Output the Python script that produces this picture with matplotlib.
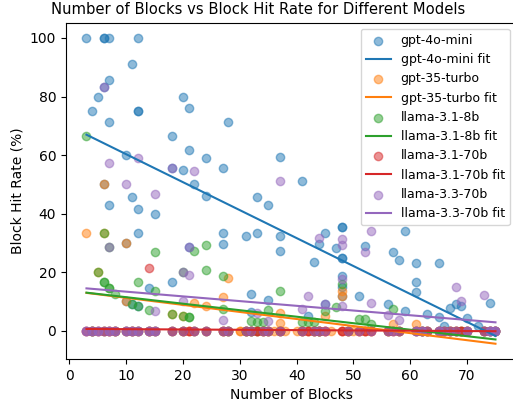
import matplotlib
matplotlib.use("Agg")
import matplotlib.pyplot as plt
import numpy as np

# block counts where a model scored 0 hits
zero_blocks = [3, 4, 5, 6, 7, 8, 10, 11, 12, 14, 15, 18, 20, 21, 22, 24, 27, 28, 31, 32,
               33, 34, 35, 37, 41, 42, 43, 44, 45, 48, 49, 51, 52, 53, 56, 57, 58, 61, 62,
               63, 65, 66, 67, 68, 69, 70, 73, 74, 75]

models = ["gpt-4o-mini", "gpt-35-turbo", "llama-3.1-8b", "llama-3.1-70b", "llama-3.3-70b"]

gpt4o_x = [3, 6, 6, 7, 12, 11, 7, 5, 20, 4, 12, 12, 21, 7, 28, 18, 21, 10, 24, 37, 20, 27,
           22, 41, 11, 24, 33, 7, 35, 12, 15, 12, 27, 31, 33, 37, 45, 48, 48, 59, 27, 37,
           44, 47, 52, 57, 48, 48, 43, 58, 61, 65, 48, 18, 61, 14, 48, 61, 32, 51, 35, 74,
           56, 68, 69, 67, 59, 32, 42, 63, 65, 70, 66, 72, 6, 10, 10, 48, 11, 12,
           6, 18, 21, 45, 44, 62, 73, 75]
gpt4o_y = [100, 100, 100, 100, 100, 91, 85.6, 80, 80, 75, 75, 75, 76, 71.4, 71.4, 66.5,
           61.8, 60, 59, 59.5, 55, 55.6, 50, 51.2, 45.6, 45.9, 45.6, 43, 43, 41.7, 40, 33.4,
           33.4, 32.2, 33.4, 32.5, 33.4, 35.3, 35.3, 34, 29.6, 27.1, 29.6, 28.2, 28.9, 27,
           25, 25, 23.3, 24.2, 23, 23, 18.8, 16.7, 16.5, 14.5, 14.9, 13.1, 12.5, 11.7, 10.5,
           9.4, 9, 9, 8.5, 7.6, 6.8, 6.3, 5.1, 5.7, 4.6, 4.4, 1.7, 1.7, 50, 30, 10.2, 11.9,
           9.1, 8.5, 83.3, 55.6, 28.5, 9.1, 0, 0, 0, 0]

gpt35_x = [3, 6, 10, 10, 22, 24, 27, 28, 37, 37, 45, 48, 48, 57, 61, 5, 6, 18, 20,
           4, 7, 8, 11, 14, 20, 21, 27, 31, 33, 35, 41, 43, 44, 49, 51, 53, 56, 58, 62,
           63, 65, 67, 68, 69, 70, 73, 74, 75,
           30, 30, 32, 34, 36, 37, 38, 40, 42, 44, 45, 46, 48, 50, 52]
gpt35_y = [33.4, 50, 30, 10.2, 9.3, 8.4, 11.4, 17.9, 5.9, 2.8, 5, 13.4, 11.9, 2.3, 2.3,
           20.2, 33.4, 5.7, 5.1,
           0, 0, 0, 0, 0, 0, 0, 0, 0, 0, 0, 0, 0, 0, 0, 0, 0, 0, 0, 0, 0, 0, 0, 0, 0, 0,
           0, 0, 0,
           0, 0, 0, 0, 0, 0, 0, 0, 0, 0, 0, 0, 0, 0, 0]

llama8_x = [3, 6, 5, 6, 6, 7, 7, 8, 12, 15, 15, 14, 18, 20, 21, 21, 22, 24, 24, 27, 27,
            32, 33, 34, 35, 37, 41, 42, 43, 45, 47, 48, 51, 52, 53, 57, 11, 12, 7, 20,
            4, 10, 28, 31, 44, 49, 56, 58, 61, 62, 63, 65, 66, 67, 68, 69, 70, 73, 74, 75,
            4, 6, 8, 11, 12, 14, 15, 18, 20, 22, 24, 27, 28, 31, 32, 32, 33, 34, 35, 37,
            41, 43]
llama8_y = [66.5, 33.4, 20.2, 16.7, 16.7, 14.5, 14.5, 12.5, 16.7, 26.8, 13.7, 7.1, 5.7,
            5.1, 4.8, 4.8, 27.3, 29.2, 20.8, 18.6, 7.3, 3.4, 3, 3, 7.1, 13.7, 3, 3, 3,
            6.8, 8, 16, 4, 4, 2.3, 7.3, 9.1, 8.5, 28.5, 20.2] + [0] * 42

llama70_x = [14] + zero_blocks + zero_blocks
llama70_y = [21.4] + [0] * (2 * len(zero_blocks))

llama33_x = [6, 12, 7, 18, 22, 10, 15, 37, 21, 21, 20, 44, 48, 48, 48, 48, 52,
             53, 42, 41, 45, 33, 35, 53, 56, 58, 68, 69, 73, 15, 27, 7, 20,
             3, 3, 4, 4, 5, 5, 6, 7, 7, 8, 8, 10, 10, 11, 11, 12, 12, 14, 14, 15, 15,
             18, 20, 22, 24, 27, 28, 31, 32, 34, 35, 37, 41, 43, 44, 45, 49, 51, 53,
             56, 57, 58, 61, 61, 62, 62, 63, 65, 65, 66, 67, 68, 70, 70, 73, 74, 74, 75,
             75, 74, 75]
llama33_y = [83.3, 58.9, 57.2, 55.6, 54.4, 50, 46.7, 51.2, 28.5, 19, 10.2,
             31.7, 31.3, 29.4, 17.5, 8.5, 27, 34, 12, 7.4, 9.1, 5.9, 3.4, 9.4, 5.5,
             3.7, 14.8, 10.2, 12.3, 6.6, 3.8, 28.5, 20.2] + [0] * 61

series = [(gpt4o_x, gpt4o_y), (gpt35_x, gpt35_y), (llama8_x, llama8_y),
          (llama70_x, llama70_y), (llama33_x, llama33_y)]

fig = plt.figure(figsize=(5.13, 4.01), dpi=100)
ax = fig.add_axes([0.1287, 0.1047, 0.877, 0.8387])

for idx, (name, (xs, ys)) in enumerate(zip(models, series)):
    color = "C" + str(idx)
    xs = np.array(xs, dtype=float)
    ys = np.array(ys, dtype=float)
    ax.scatter(xs, ys, color=color, alpha=0.5, label=name)
    coef = np.polyfit(xs, ys, 1)
    xfit = np.array([xs.min(), xs.max()])
    ax.plot(xfit, np.polyval(coef, xfit), color=color, label=name + " fit")

ax.set_title("Number of Blocks vs Block Hit Rate for Different Models",
             fontsize=10.6, x=0.4267)
ax.set_xlabel("Number of Blocks")
ax.set_ylabel("Block Hit Rate (%)")
ax.legend(loc="upper right", fontsize=9)

fig.savefig("out.png", dpi=100)
